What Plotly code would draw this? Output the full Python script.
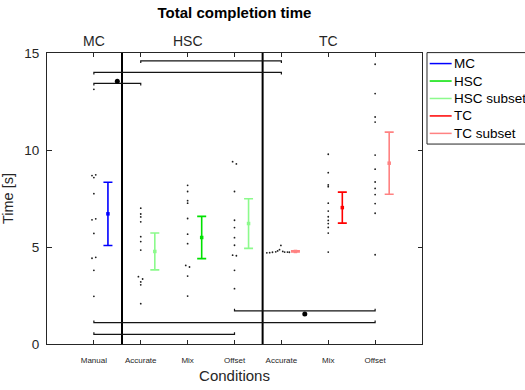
import plotly.graph_objects as go

# ---- data -------------------------------------------------------------
tick_positions = [1, 2, 3, 4, 5, 6, 7]
tick_labels = ["Manual", "Accurate", "Mix", "Offset", "Accurate", "Mix", "Offset"]

group_names = ["MC", "HSC", "TC"]
group_centres = [1, 3, 6]
group_separators = [1.6, 4.6]

# per-participant completion times [s] for each condition
t_manual = [13.13, 8.72, 8.68, 8.58, 7.75, 6.45, 6.40, 5.70, 4.47, 4.42, 3.80, 2.46]
t_hsc_accurate = [7.00, 6.70, 6.55, 6.30, 5.53, 5.28, 4.84, 3.47, 3.35, 3.20, 3.05, 2.08]
t_hsc_mix = [8.18, 7.86, 7.39, 7.26, 6.47, 5.66, 5.17, 4.05, 3.97, 3.50, 2.47]
t_hsc_offset = [9.40, 9.28, 7.86, 6.38, 6.00, 5.48, 5.09, 4.58, 4.55, 3.80, 2.85]
t_tc_accurate = [4.70, 4.71, 4.73, 4.75, 4.80, 4.86, 5.08, 4.77, 4.74, 4.74, 4.73]
t_tc_mix = [9.78, 8.83, 8.20, 8.11, 7.26, 6.85, 6.56, 6.37, 6.21, 6.01, 5.72, 4.74]
t_tc_offset = [14.42, 12.91, 11.70, 11.44, 9.74, 9.01, 8.35, 8.02, 7.70, 7.24, 6.74, 4.60]

# horizontal spread of the individual points around their condition
j_manual = [0, 0.04, -0.04, 0, 0, 0.04, -0.04, 0, 0.04, -0.04, 0, 0]
j_hsc_accurate = [0, 0, 0, 0, 0, 0, 0, -0.05, 0.04, 0, 0, 0]
j_hsc_mix = [0, 0, 0, 0, 0, 0, 0, -0.04, 0.04, 0, 0]
j_hsc_offset = [-0.04, 0.04, 0, 0, 0, 0, 0, -0.04, 0.04, 0, 0]
j_tc_accurate = [-0.31, -0.25, -0.19, -0.12, -0.08, -0.04, -0.01, 0.03, 0.07, 0.13, 0.17]
j_tc_mix = [0, 0, 0, 0, 0, 0, 0, 0, 0, 0, 0, 0]
j_tc_offset = [0, 0, 0, 0, 0, 0, 0, 0, 0, 0, 0, 0]

all_times = [t_manual, t_hsc_accurate, t_hsc_mix, t_hsc_offset,
             t_tc_accurate, t_tc_mix, t_tc_offset]
all_jitter = [j_manual, j_hsc_accurate, j_hsc_mix, j_hsc_offset,
              j_tc_accurate, j_tc_mix, j_tc_offset]

# summary statistics (mean and error half-width) per series
series_names = ["MC", "HSC", "HSC subset", "TC", "TC subset"]
series_x = [[1.3], [3.3], [2.3, 4.3], [6.3], [5.3, 7.3]]
series_mean = [[6.71], [5.49], [4.77, 6.21], [7.03], [4.77, 9.32]]
series_err = [[1.63], [1.09], [0.95, 1.28], [0.80], [0.03, 1.60]]
series_colors = ["rgb(0,0,255)", "rgb(0,225,0)", "rgb(140,250,140)",
                 "rgb(255,0,0)", "rgb(255,130,130)"]

# significance brackets: start, end, height, direction of end ticks
bracket_start = [2, 1, 1, 4, 1, 1]
bracket_end = [5, 5, 2, 7, 7, 4]
bracket_height = [14.59, 14.00, 13.43, 1.71, 1.10, 0.50]
bracket_dir = [-1, -1, -1, 1, 1, 1]
sig_x = [1.5, 5.5]
sig_y = [13.55, 1.55]

# ---- figure -----------------------------------------------------------
FONT = "Liberation Sans, Arial, Helvetica, sans-serif"
AXIS_COLOR = "rgb(38,38,38)"

W, H = 525, 390
L, R, T, B = 46.7, 102.7, 52.7, 45.5

fig = go.Figure()

# group separators
for xs in group_separators:
    fig.add_trace(go.Scatter(x=[xs, xs], y=[0, 15], mode="lines",
                             line=dict(color="black", width=2),
                             hoverinfo="skip", showlegend=False))

# significance brackets
tick_h = 0.11
for xs, xe, yh, d in zip(bracket_start, bracket_end, bracket_height, bracket_dir):
    fig.add_trace(go.Scatter(x=[xs, xs, xe, xe],
                             y=[yh + d * tick_h, yh, yh, yh + d * tick_h],
                             mode="lines", line=dict(color="rgb(20,20,20)", width=1.2),
                             hoverinfo="skip", showlegend=False))
fig.add_trace(go.Scatter(x=sig_x, y=sig_y, mode="markers",
                         marker=dict(color="black", size=5),
                         hoverinfo="skip", showlegend=False))

# individual participants
for pos, times, jit in zip(tick_positions, all_times, all_jitter):
    fig.add_trace(go.Scatter(x=[pos + j for j in jit], y=times, mode="markers",
                             marker=dict(color="rgb(30,30,30)", size=1.8),
                             showlegend=False))

# means with error bars
for name, xs, ms, es, col in zip(series_names, series_x, series_mean,
                                 series_err, series_colors):
    fig.add_trace(go.Scatter(
        x=xs, y=ms, mode="markers", name=name, showlegend=False,
        marker=dict(symbol="square", size=3.5, color=col),
        error_y=dict(type="data", array=es, symmetric=True, color=col,
                     thickness=1.6, width=4.5)))

# pixel -> paper helpers for elements placed outside the axes
pw, ph = W - L - R, H - T - B
def px_x(v):
    return (v - L) / pw
def px_y(v):
    return (H - B - v) / ph

# group labels above the axes
for gname, gx in zip(group_names, group_centres):
    fig.add_annotation(x=gx, y=px_y(40.5), xref="x", yref="paper", text=gname,
                       showarrow=False, xanchor="center", yanchor="middle",
                       font=dict(family=FONT, size=14, color=AXIS_COLOR))

# legend box drawn at the right of the axes
fig.add_shape(type="rect", xref="paper", yref="paper",
              x0=px_x(427.3), x1=px_x(540), y0=px_y(144), y1=px_y(52.3),
              line=dict(color=AXIS_COLOR, width=1), fillcolor="white")
legend_rows = [63.3, 80.8, 98.3, 115.8, 133.3]
for name, col, ry in zip(series_names, series_colors, legend_rows):
    fig.add_shape(type="line", xref="paper", yref="paper",
                  x0=px_x(430), x1=px_x(452), y0=px_y(ry), y1=px_y(ry),
                  line=dict(color=col, width=1.5))
    fig.add_annotation(x=px_x(452), y=px_y(ry), xref="paper", yref="paper",
                       text=name, showarrow=False, xanchor="left",
                       yanchor="middle",
                       font=dict(family=FONT, size=13.5, color="black"))

fig.update_layout(
    width=W, height=H,
    margin=dict(l=L, r=R, t=T, b=B, pad=0, autoexpand=False),
    paper_bgcolor="white", plot_bgcolor="white",
    showlegend=False,
    font=dict(family=FONT, color=AXIS_COLOR),
    title=dict(text="<b>Total completion time</b>", x=0.5, xref="paper",
               xanchor="center", y=1 - 13 / H, yref="container",
               yanchor="middle",
               font=dict(family=FONT, size=15, color="black")),
    xaxis=dict(range=[0, 8], tickvals=tick_positions, ticktext=tick_labels,
               ticks="inside", ticklen=4, tickcolor=AXIS_COLOR,
               showline=True, linecolor=AXIS_COLOR, linewidth=1,
               mirror="ticks", showgrid=False, zeroline=False,
               tickfont=dict(family=FONT, size=8, color=AXIS_COLOR),
               ticklabelstandoff=8,
               title=dict(text="Conditions", standoff=6,
                          font=dict(family=FONT, size=15, color=AXIS_COLOR))),
    yaxis=dict(range=[0, 15], tickvals=[0, 5, 10, 15],
               ticks="inside", ticklen=4.5, tickcolor=AXIS_COLOR,
               showline=True, linecolor=AXIS_COLOR, linewidth=1,
               mirror="ticks", showgrid=False, zeroline=False,
               tickfont=dict(family=FONT, size=13.5, color=AXIS_COLOR),
               ticklabelstandoff=4,
               title=dict(text="Time [s]", standoff=8,
                          font=dict(family=FONT, size=14.5, color=AXIS_COLOR))),
)

fig.write_html("out.html")
